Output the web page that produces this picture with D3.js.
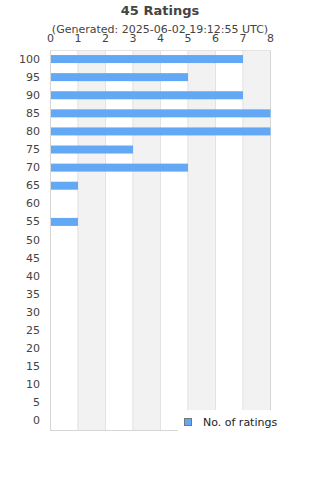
<!DOCTYPE html>
<html>
<head>
<meta charset="utf-8">
<script src="https://cdn.jsdelivr.net/npm/d3@7"></script>
<style>
body { margin: 0; background: #fff; }
svg { font-family: "DejaVu Sans", sans-serif; }
</style>
</head>
<body>
<svg></svg>
<script>
// rating buckets and how many ratings fell in each
const ratings = [100, 95, 90, 85, 80, 75, 70, 65, 60, 55, 50, 45, 40, 35, 30, 25, 20, 15, 10, 5, 0]
const counts = [7, 5, 7, 8, 8, 3, 5, 1, 0, 1, 0, 0, 0, 0, 0, 0, 0, 0, 0, 0, 0]
const xTicks = [0, 1, 2, 3, 4, 5, 6, 7, 8]

const svg = d3.select("svg")
	.attr("width", 320)
	.attr("height", 480)

const plotL = 50, plotR = 270, plotT = 50, plotB = 430

const x = d3.scaleLinear()
	.domain([0, 8])
	.range([plotL, plotR])

const y = d3.scaleBand()
	.domain(ratings)
	.range([plotT, plotB])

// alternating grey columns
svg.selectAll("rect.band")
	.data(xTicks.slice(1).filter((d) => d % 2 == 0))
	.enter()
	.append("rect")
	.attr("class", "band")
	.attr("x", (d) => x(d - 1))
	.attr("y", plotT)
	.attr("width", (d) => x(d) - x(d - 1))
	.attr("height", plotB - plotT)
	.attr("fill", "#f2f2f2")

// grid lines
svg.selectAll("line.grid")
	.data(xTicks)
	.enter()
	.append("line")
	.attr("class", "grid")
	.attr("x1", (d) => x(d) + 0.5)
	.attr("x2", (d) => x(d) + 0.5)
	.attr("y1", plotT)
	.attr("y2", plotB)
	.attr("stroke", (d) => (d == 0 || d == 8) ? "#d6d6d6" : "#e3e3e3")

svg.append("line")
	.attr("x1", plotL).attr("x2", plotR + 1)
	.attr("y1", plotT + 0.5).attr("y2", plotT + 0.5)
	.attr("stroke", "#e3e3e3")
svg.append("line")
	.attr("x1", plotL).attr("x2", plotR + 1)
	.attr("y1", plotB + 0.5).attr("y2", plotB + 0.5)
	.attr("stroke", "#d6d6d6")

// bars
svg.selectAll("rect.bar")
	.data(counts)
	.enter()
	.append("rect")
	.attr("class", "bar")
	.attr("x", x(0) + 1)
	.attr("y", (d, i) => y(ratings[i]) + y.bandwidth() / 2 - 4)
	.attr("width", (d) => Math.max(0, x(d) - x(0) - (d > 0 ? 0.5 : 0)))
	.attr("height", 8)
	.attr("fill", "#63a8f4")

// axes
const xAxis = svg.append("g")
	.attr("transform", `translate(0,${plotT - 8})`)
	.call(d3.axisTop(x).tickValues(xTicks).tickFormat(d3.format("d")).tickSize(0).tickPadding(0))
xAxis.select(".domain").remove()
xAxis.selectAll("text")
	.attr("font-size", 11)
	.attr("font-family", "DejaVu Sans, sans-serif")
	.attr("fill", "#444")

const yAxis = svg.append("g")
	.attr("transform", `translate(${plotL - 10},0)`)
	.call(d3.axisLeft(y).tickSize(0).tickPadding(0))
yAxis.select(".domain").remove()
yAxis.selectAll("text")
	.attr("font-size", 11)
	.attr("font-family", "DejaVu Sans, sans-serif")
	.attr("fill", "#444")

// titles
svg.append("text")
	.attr("x", 160).attr("y", 15)
	.attr("text-anchor", "middle")
	.attr("font-size", 13)
	.attr("font-weight", "bold")
	.attr("fill", "#444")
	.text("45 Ratings")

svg.append("text")
	.attr("x", 160).attr("y", 33)
	.attr("text-anchor", "middle")
	.attr("font-size", 11)
	.attr("fill", "#444")
	.text("(Generated: 2025-06-02 19:12:55 UTC)")

// legend
svg.append("rect")
	.attr("x", 178).attr("y", 410)
	.attr("width", 142).attr("height", 30)
	.attr("fill", "#fff")
svg.append("rect")
	.attr("x", 184.5).attr("y", 418.5)
	.attr("width", 7).attr("height", 7)
	.attr("fill", "#63a8f4")
	.attr("stroke", "#777")
svg.append("text")
	.attr("x", 203).attr("y", 426)
	.attr("font-size", 11)
	.attr("fill", "#222")
	.text("No. of ratings")
</script>
</body>
</html>
